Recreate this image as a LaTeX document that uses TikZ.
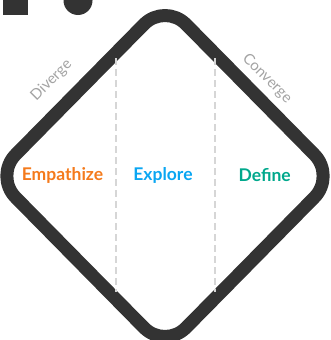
\documentclass[tikz,border=0pt]{standalone}
\usepackage{fontspec}
\setmainfont{Lato}
\begin{document}
\begin{tikzpicture}[x=1pt,y=-1pt,
  frame/.style={draw=ink,line width=13pt,rounded corners=30pt,line join=round},
  divider/.style={draw=rule,line width=2.6pt,dash pattern=on 7pt off 4pt},
  phase/.style={font=\fontsize{17.5}{19}\selectfont\bfseries,inner sep=0pt},
  slope/.style={font=\fontsize{15}{17}\selectfont,text=slopegray,inner sep=0pt}]
\definecolor{ink}{HTML}{333333}
\definecolor{rule}{HTML}{D6D6D6}
\definecolor{slopegray}{HTML}{A3A3A3}
\definecolor{empc}{HTML}{F47A1C}
\definecolor{expc}{HTML}{0AA6F2}
\definecolor{defc}{HTML}{00A88C}
\useasboundingbox (0,0) rectangle (330,340);
\clip (0,0) rectangle (330,340);
% corner marks
\fill[ink] (3,-2) rectangle (28,14.7);
\fill[ink] (78,0.5) circle (14.5);
% diamond outline
\coordinate (top) at (165,3);
\coordinate (right) at (335.5,176);
\coordinate (bottom) at (165,349);
\coordinate (left) at (-5.5,176);
\path[frame] (top) -- (right) -- (bottom) -- (left) -- cycle;
% phase dividers
\coordinate (d1t) at (116,58);
\coordinate (d1b) at (116,292);
\coordinate (d2t) at (215,58);
\coordinate (d2b) at (215,292);
\path[divider] (d1t) -- (d1b);
\path[divider] (d2t) -- (d2b);
% phase labels
\node[phase,text=empc] (emp) at (62.5,175) {Empathize};
\node[phase,text=expc] (exp) at (163,175) {Explore};
\node[phase,text=defc] (def) at (264.7,175.5) {Define};
% slope labels
\node[slope,rotate=45] (div) at (51.5,80.5) {Diverge};
\node[slope,rotate=-45] (conv) at (267,78.5) {Converge};
\end{tikzpicture}
\end{document}
